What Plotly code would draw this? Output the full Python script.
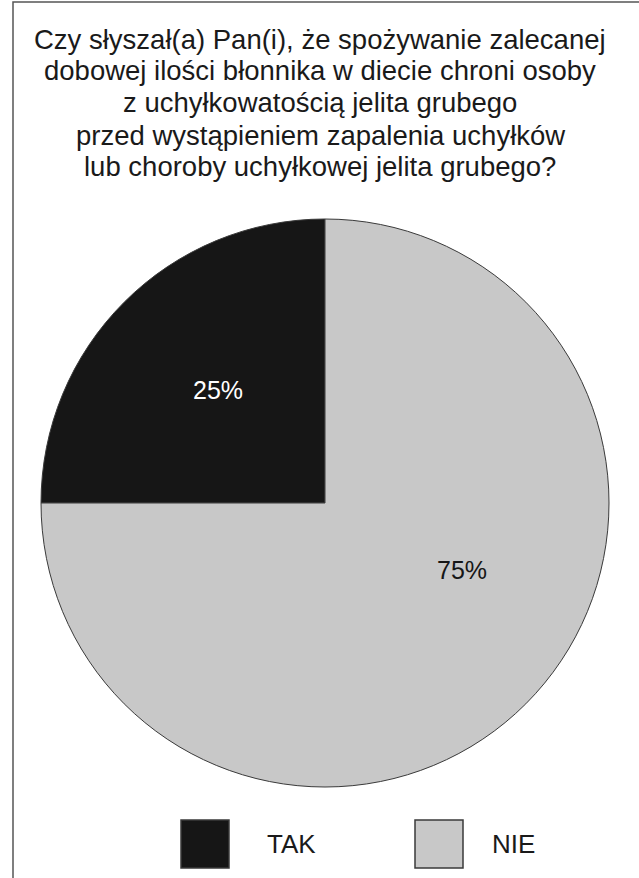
import plotly.graph_objects as go

W, H = 639, 878

title_lines = [
    "Czy słyszał(a) Pan(i), że spożywanie zalecanej",
    "dobowej ilości błonnika w diecie chroni osoby",
    "z uchyłkowatością jelita grubego",
    "przed wystąpieniem zapalenia uchyłków",
    "lub choroby uchyłkowej jelita grubego?",
]
labels = ["TAK", "NIE"]
values = [25, 75]
colors = ["#161616", "#c8c8c8"]
text_colors = ["#ffffff", "#161616"]

FONT = "Liberation Sans, Arial, sans-serif"

# pie geometry in pixels
cx, cy, R = 325, 503, 284

fig = go.Figure()
fig.add_trace(go.Pie(
    labels=labels,
    values=values,
    sort=False,
    direction="clockwise",
    rotation=-90,
    marker=dict(colors=colors, line=dict(color="#3a3a3a", width=1)),
    textinfo="none",
    showlegend=False,
    hoverinfo="label+percent",
    domain=dict(x=[(cx - R) / W, (cx + R) / W],
                y=[1 - (cy + R) / H, 1 - (cy - R) / H]),
))

shapes = []
annotations = []

# outer frame (left and top visible, cropped on right/bottom)
shapes.append(dict(type="rect", xref="paper", yref="paper",
                   x0=13 / W, x1=(W + 5) / W, y0=-5 / H, y1=1 - 2 / H,
                   line=dict(color="#555555", width=1.5), fillcolor="rgba(0,0,0,0)"))

# title, one line per annotation for tight line spacing
for i, line in enumerate(title_lines):
    annotations.append(dict(
        text=line, xref="paper", yref="paper",
        x=320 / W, y=1 - (39 + 32 * i) / H, xanchor="center", yanchor="middle",
        showarrow=False, align="center",
        font=dict(family=FONT, size=27.5, color="#1a1a1a"),
    ))

# percentage labels inside slices
label_pos = [(218, 390), (462, 570)]
for (px, py), v, tc in zip(label_pos, values, text_colors):
    annotations.append(dict(
        text=f"{v}%", xref="paper", yref="paper",
        x=px / W, y=1 - py / H, xanchor="center", yanchor="middle",
        showarrow=False, font=dict(family=FONT, size=25, color=tc),
    ))

# legend
leg_sq = [(181, 820), (415, 820)]
leg_txt_x = [265, 490]
sq = 48
for (lx, ly), tx, lab, col in zip(leg_sq, leg_txt_x, labels, colors):
    shapes.append(dict(type="rect", xref="paper", yref="paper",
                       x0=lx / W, x1=(lx + sq) / W,
                       y0=1 - (ly + sq) / H, y1=1 - ly / H,
                       fillcolor=col, line=dict(color="#3a3a3a", width=1.5)))
    annotations.append(dict(text=lab, xref="paper", yref="paper",
                            x=tx / W, y=1 - (ly + sq / 2) / H,
                            xanchor="left", yanchor="middle", showarrow=False,
                            font=dict(family=FONT, size=26, color="#1a1a1a")))

fig.update_layout(
    width=W, height=H,
    margin=dict(l=0, r=0, t=0, b=0),
    paper_bgcolor="white",
    plot_bgcolor="white",
    shapes=shapes,
    annotations=annotations,
)

fig.write_html("out.html")
